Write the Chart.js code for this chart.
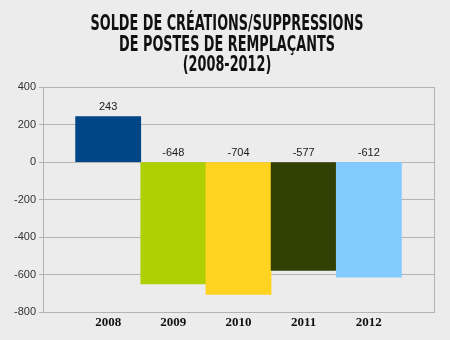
<!DOCTYPE html>
<html>
<head>
<meta charset="utf-8">
<script src="https://cdn.jsdelivr.net/npm/chart.js@4"></script>
<style>
  body { margin: 0; background: #ececec; }
  #wrap { width: 450px; height: 340px; }
</style>
</head>
<body>
<div id="wrap"><canvas id="myChart" width="450" height="340"></canvas></div>
<script>
const years = [2008, 2009, 2010, 2011, 2012];
const values = [243, -648, -704, -577, -612];
const barColors = ['#004586', '#aecf00', '#ffd320', '#314004', '#83caff'];
const titleLines = ['SOLDE DE CRÉATIONS/SUPPRESSIONS', 'DE POSTES DE REMPLAÇANTS', '(2008-2012)'];

// condensed title, frame round the plot area, value labels
const extras = {
  id: 'extras',
  beforeDatasetsDraw(chart) {
    const a = chart.chartArea, ctx = chart.ctx;
    ctx.save();
    ctx.strokeStyle = '#b3b3b3';
    ctx.lineWidth = 1;
    ctx.strokeRect(Math.round(a.left) + 0.5, Math.round(a.top) + 0.5,
      Math.round(a.right - a.left), Math.round(a.bottom - a.top));
    ctx.restore();
  },
  afterDatasetsDraw(chart) {
    const ctx = chart.ctx;
    ctx.save();
    ctx.font = '11px "Liberation Sans", Arial, sans-serif';
    ctx.fillStyle = '#1a1a1a';
    ctx.textAlign = 'center';
    ctx.textBaseline = 'middle';
    chart.getDatasetMeta(0).data.forEach((bar, i) => {
      const v = values[i];
      const y = v >= 0 ? bar.y : bar.base;
      ctx.fillText(String(v), bar.x, y - 9.5);
    });
    ctx.restore();
  },
  afterDraw(chart) {
    const ctx = chart.ctx;
    ctx.save();
    ctx.fillStyle = '#111';
    ctx.textAlign = 'center';
    ctx.textBaseline = 'alphabetic';
    ctx.font = 'bold 21px "DejaVu Sans Condensed", "DejaVu Sans", sans-serif';
    ctx.translate(227, 0);
    ctx.scale(0.68, 1);
    titleLines.forEach((line, i) => {
      ctx.fillText(line, 0, 30 + i * 20.5);
    });
    ctx.restore();
  }
};

var ctx = document.getElementById('myChart').getContext('2d');
var myChart = new Chart(ctx, {
  type: 'bar',
  data: {
    datasets: [{
      data: years.map((y, i) => ({ x: y, y: values[i] })),
      backgroundColor: barColors,
      borderWidth: 0,
      barPercentage: 1,
      categoryPercentage: 1
    }]
  },
  options: {
    responsive: false,
    animation: false,
    layout: { padding: { left: 11, right: 16, top: 87, bottom: 8 } },
    plugins: {
      legend: { display: false },
      tooltip: { enabled: false },
      title: { display: false }
    },
    scales: {
      x: {
        type: 'linear',
        min: 2007,
        max: 2013,
        offset: false,
        grid: { display: false, drawTicks: false, tickLength: 0 },
        border: { display: false },
        ticks: {
          stepSize: 1,
          color: '#111',
          font: { family: '"Liberation Serif", serif', size: 13, weight: 'bold' },
          padding: 2,
          callback: (v) => (years.includes(v) ? String(v) : '')
        }
      },
      y: {
        min: -800,
        max: 400,
        grid: { color: '#b3b3b3', tickLength: 4 },
        border: { color: '#b3b3b3' },
        ticks: {
          stepSize: 200,
          color: '#333',
          font: { family: '"Liberation Sans", Arial, sans-serif', size: 11 },
          padding: 3
        }
      }
    }
  },
  plugins: [extras]
});
</script>
</body>
</html>
